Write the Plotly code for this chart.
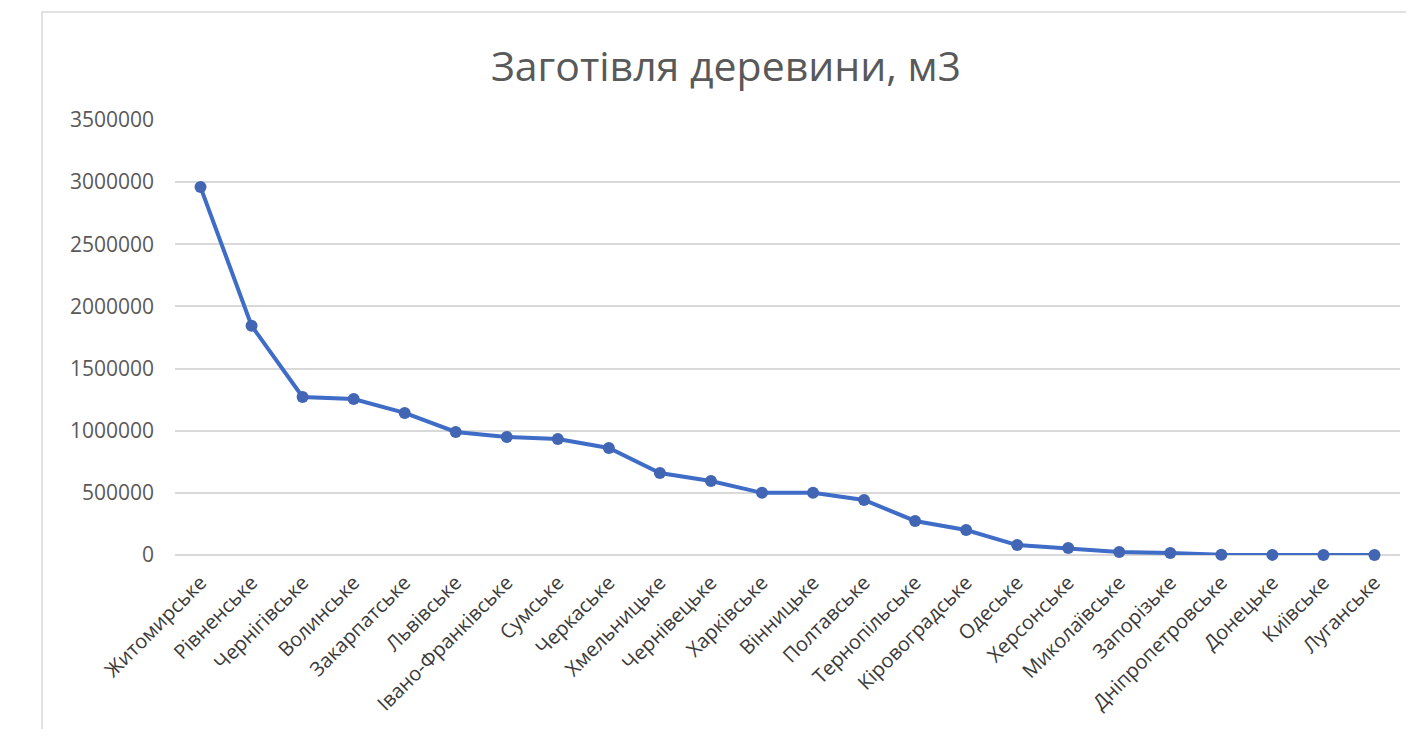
import plotly.graph_objects as go

regions = ["Житомирське", "Рівненське", "Чернігівське", "Волинське", "Закарпатське",
           "Львівське", "Івано-Франківське", "Сумське", "Черкаське", "Хмельницьке",
           "Чернівецьке", "Харківське", "Вінницьке", "Полтавське", "Тернопільське",
           "Кіровоградське", "Одеське", "Херсонське", "Миколаївське", "Запорізьке",
           "Дніпропетровське", "Донецьке", "Київське", "Луганське"]
harvest_m3 = [2960000, 1845000, 1271000, 1255000, 1143000,
              990000, 950000, 933000, 861000, 660000,
              595000, 500000, 500000, 443000, 274000,
              201000, 80000, 56000, 24000, 16000,
              2000, 1000, 500, 0]
y_ticks = [0, 500000, 1000000, 1500000, 2000000, 2500000, 3000000, 3500000]

W, H = 1398, 721
L, R, T, B = 167, 6, 112, 174
pw, ph = W - L - R, H - T - B

fig = go.Figure()
fig.add_trace(go.Scatter(
    x=regions, y=harvest_m3, mode="lines+markers",
    line=dict(color="#3F6CC6", width=4),
    marker=dict(color="#4266B4", size=12),
    cliponaxis=False,
))

fig.update_layout(
    width=W, height=H,
    margin=dict(l=L, r=R, t=T, b=B, autoexpand=False),
    paper_bgcolor="white", plot_bgcolor="white",
    showlegend=False,
    font=dict(family="Open Sans", color="#595959"),
    title=dict(text="Заготівля деревини, м3", x=718 / W, xanchor="center",
               y=1 - 59 / H, yanchor="middle", yref="container",
               font=dict(size=41, color="#595959", family="Open Sans")),
    xaxis=dict(type="category", range=[-0.5, len(regions) - 0.5],
               tickangle=-45, showgrid=False, showline=False, ticks="",
               ticklabelstandoff=11,
               tickfont=dict(size=20, color="#3a3a3a")),
    yaxis=dict(range=[0, 3500000], tickvals=y_ticks,
               ticktext=[str(v) for v in y_ticks],
               showgrid=True, gridcolor="#d9d9d9", gridwidth=1.5,
               zeroline=True, zerolinecolor="#d9d9d9", zerolinewidth=1.5,
               showline=False, ticks="", ticklabelstandoff=20,
               tickfont=dict(size=21, color="#595959")),
    shapes=[dict(type="rect", xref="paper", yref="paper",
                 x0=(34 - L) / pw, x1=(1402 - L) / pw,
                 y0=-0.5, y1=(H - B - 4) / ph,
                 line=dict(color="#d9d9d9", width=1.5), layer="below")],
)

fig.write_html("out.html")
